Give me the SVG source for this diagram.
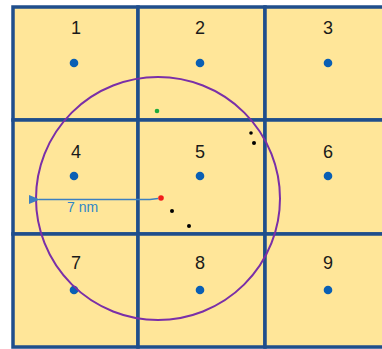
<svg xmlns="http://www.w3.org/2000/svg" width="382" height="349" viewBox="0 0 382 349">
<style>
.cell{fill:#FFE699;stroke:#1F4E8C;stroke-width:3.5}
.lbl{font-family:"Liberation Sans",Arial,sans-serif;font-size:18px;fill:#1a1a1a;text-anchor:middle}
.dot{fill:#0A5FB4}
.bk{fill:#000}
</style>
<defs>
<marker id="ah" markerWidth="11" markerHeight="9" refX="1" refY="4.5" orient="auto" markerUnits="userSpaceOnUse">
<path d="M11,0 L0,4.5 L11,9 Z" fill="#3C7FC0"/>
</marker>
</defs>
<rect x="0" y="0" width="382" height="349" fill="#fff"/>
<g id="cell1"><rect class="cell" x="13" y="7" width="125" height="113"/><text class="lbl" x="76" y="34">1</text><circle class="dot" cx="74" cy="63" r="4.3"/></g>
<g id="cell2"><rect class="cell" x="138" y="7" width="127" height="113"/><text class="lbl" x="200" y="34">2</text><circle class="dot" cx="200" cy="63" r="4.3"/></g>
<g id="cell3"><rect class="cell" x="265" y="7" width="127" height="113"/><text class="lbl" x="328" y="34">3</text><circle class="dot" cx="328" cy="63" r="4.3"/></g>
<g id="cell4"><rect class="cell" x="13" y="120" width="125" height="114"/><text class="lbl" x="76" y="158">4</text><circle class="dot" cx="74" cy="176" r="4.3"/></g>
<g id="cell5"><rect class="cell" x="138" y="120" width="127" height="114"/><text class="lbl" x="200" y="158">5</text><circle class="dot" cx="200" cy="176" r="4.3"/></g>
<g id="cell6"><rect class="cell" x="265" y="120" width="127" height="114"/><text class="lbl" x="328" y="158">6</text><circle class="dot" cx="328" cy="176" r="4.3"/></g>
<g id="cell7"><rect class="cell" x="13" y="234" width="125" height="113"/><text class="lbl" x="76" y="269">7</text><circle class="dot" cx="74" cy="290" r="4.3"/></g>
<g id="cell8"><rect class="cell" x="138" y="234" width="127" height="113"/><text class="lbl" x="200" y="269">8</text><circle class="dot" cx="200" cy="290" r="4.3"/></g>
<g id="cell9"><rect class="cell" x="265" y="234" width="127" height="113"/><text class="lbl" x="328" y="269">9</text><circle class="dot" cx="328" cy="290" r="4.3"/></g>
<g id="range">
<ellipse cx="158" cy="198.5" rx="122" ry="121.5" fill="none" stroke="#7A2FA8" stroke-width="2"/>
</g>
<g id="connectors">
<path d="M158,198.5 L150,199.5 L39,199.5" fill="none" stroke="#3C7FC0" stroke-width="1.3" marker-end="url(#ah)"/>
</g>
<text x="67" y="212" font-family="'Liberation Sans',Arial,sans-serif" font-size="14" fill="#2E86C8">7 nm</text>
<g id="points">
<circle cx="161" cy="198" r="2.8" fill="#F21B1B"/>
<circle cx="157" cy="111" r="2.3" fill="#1DAA3C"/>
<circle class="bk" cx="251" cy="133" r="1.8"/>
<circle class="bk" cx="254" cy="143" r="2"/>
<circle class="bk" cx="172" cy="211" r="2"/>
<circle class="bk" cx="189" cy="226" r="2"/>
</g>
</svg>
